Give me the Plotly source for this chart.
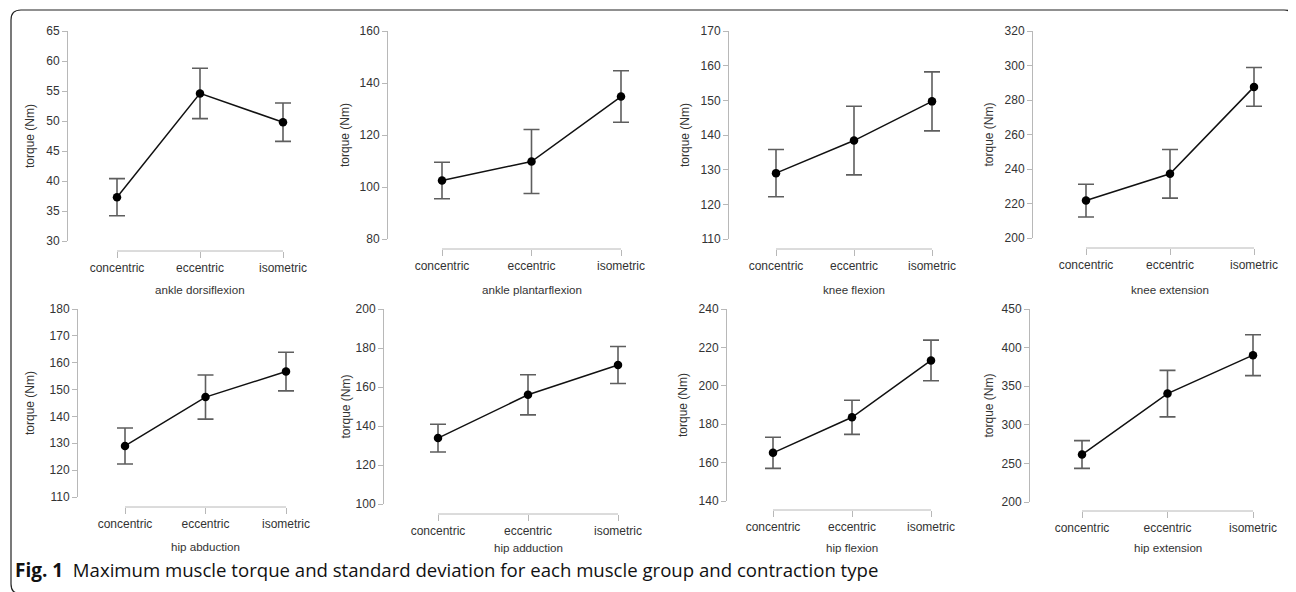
import plotly.graph_objects as go

# ---------------- data ----------------
categories = ["concentric", "eccentric", "isometric"]

muscle_groups = ["ankle dorsiflexion", "ankle plantarflexion", "knee flexion", "knee extension",
                 "hip abduction", "hip adduction", "hip flexion", "hip extension"]

mean_ankle_dorsiflexion = [37.3, 54.6, 49.8]
sd_ankle_dorsiflexion = [3.1, 4.2, 3.2]
mean_ankle_plantarflexion = [102.5, 109.8, 134.8]
sd_ankle_plantarflexion = [7.0, 12.3, 9.9]
mean_knee_flexion = [129.0, 138.4, 149.7]
sd_knee_flexion = [6.8, 9.9, 8.5]
mean_knee_extension = [221.7, 237.2, 287.6]
sd_knee_extension = [9.5, 14.1, 11.2]
mean_hip_abduction = [129.0, 147.2, 156.7]
sd_hip_abduction = [6.7, 8.2, 7.2]
mean_hip_adduction = [133.8, 156.0, 171.3]
sd_hip_adduction = [7.1, 10.3, 9.5]
mean_hip_flexion = [165.1, 183.6, 213.2]
sd_hip_flexion = [8.1, 8.9, 10.6]
mean_hip_extension = [261.5, 340.4, 390.2]
sd_hip_extension = [18.0, 30.1, 26.5]

means = [mean_ankle_dorsiflexion, mean_ankle_plantarflexion, mean_knee_flexion, mean_knee_extension,
         mean_hip_abduction, mean_hip_adduction, mean_hip_flexion, mean_hip_extension]
sds = [sd_ankle_dorsiflexion, sd_ankle_plantarflexion, sd_knee_flexion, sd_knee_extension,
       sd_hip_abduction, sd_hip_adduction, sd_hip_flexion, sd_hip_extension]

# y-axis scales (min, max, tick step)
y_axis_min = [30, 80, 110, 200, 110, 100, 140, 200]
y_axis_max = [65, 160, 170, 320, 180, 200, 240, 450]
y_axis_step = [5, 20, 10, 20, 10, 20, 20, 50]

y_title = "torque (Nm)"
caption_bold = "Fig. 1"
caption_text = "Maximum muscle torque and standard deviation for each muscle group and contraction type"

# ---------------- layout geometry (pixels, page coordinates) ----------------
W, H = 1296, 592
OFF = 8  # the page body margin that offsets the figure
# per panel: y-axis x, y-top, y-bottom, x-axis y, first category x, last category x, y-title x, x-title y
geom = [
    (67, 31, 241, 251, 117, 283, 30, 289),
    (387, 31, 239, 249, 442, 621, 345, 289),
    (728, 31, 239, 249, 776, 932, 685, 289),
    (1032, 31, 238, 248, 1086, 1254, 988, 289),
    (77, 309, 497, 507, 125, 286, 30, 546),
    (383, 309, 504, 514, 438, 618, 345, 547),
    (726, 309, 501, 510, 773, 931, 683, 547),
    (1029, 309, 502, 511, 1082, 1253, 988, 547),
]
PAD = 30  # extra px of plotting area left/right of the outer categories


def fx(px):
    return (px - OFF) / W


def fy(py):
    return 1 - (py - OFF) / H


AX_COL = "#b8b8b8"
TXT_COL = "#333333"
FONT = "Liberation Sans, Arial, sans-serif"

fig = go.Figure()
annotations = []
shapes = []
layout_axes = {}

for i in range(8):
    ax_x, ytop, ybot, xax_y, c0, c1, yt_x, xt_y = geom[i]
    n = i + 1
    xname = "x" if n == 1 else f"x{n}"
    yname = "y" if n == 1 else f"y{n}"
    xkey = "xaxis" if n == 1 else f"xaxis{n}"
    ykey = "yaxis" if n == 1 else f"yaxis{n}"

    fig.add_trace(go.Scatter(
        x=categories, y=means[i], xaxis=xname, yaxis=yname,
        mode="lines+markers",
        line=dict(color="#111111", width=1.5),
        marker=dict(color="#000000", size=8.5),
        error_y=dict(type="data", array=sds[i], visible=True, color="#5e5e5e",
                     thickness=1.6, width=8),
        cliponaxis=False, showlegend=False, hoverinfo="x+y",
    ))

    half = (c1 - c0) / 2.0
    d = PAD / half
    layout_axes[xkey] = dict(
        domain=[fx(c0 - PAD), fx(c1 + PAD)], anchor="free", position=fy(xax_y),
        type="category", range=[-d, 2 + d], showgrid=False, zeroline=False,
        showline=False, automargin=False,
        ticks="outside", ticklen=6, tickcolor=AX_COL, tickwidth=1,
        tickfont=dict(family=FONT, size=12, color=TXT_COL),
        fixedrange=True,
    )
    layout_axes[ykey] = dict(
        domain=[fy(ybot), fy(ytop)], anchor="free", position=fx(ax_x),
        range=[y_axis_min[i], y_axis_max[i]], dtick=y_axis_step[i], tick0=y_axis_min[i],
        showgrid=False, zeroline=False, automargin=False,
        showline=True, linecolor=AX_COL, linewidth=1,
        ticks="outside", ticklen=5, tickcolor=AX_COL, tickwidth=1,
        tickfont=dict(family=FONT, size=12, color=TXT_COL),
        fixedrange=True,
    )
    # x-axis baseline spanning first to last category
    shapes.append(dict(type="line", xref=xname, yref="paper",
                       x0=categories[0], x1=categories[-1], y0=fy(xax_y), y1=fy(xax_y),
                       line=dict(color=AX_COL, width=1)))
    # axis titles
    annotations.append(dict(
        text=muscle_groups[i], xref="paper", yref="paper",
        x=fx((c0 + c1) / 2), y=fy(xt_y), xanchor="center", yanchor="middle",
        showarrow=False, font=dict(family=FONT, size=11.6, color=TXT_COL),
    ))
    annotations.append(dict(
        text=y_title, xref="paper", yref="paper",
        x=fx(yt_x), y=fy((ytop + ybot) / 2), xanchor="center", yanchor="middle",
        textangle=-90, showarrow=False, font=dict(family=FONT, size=12, color=TXT_COL),
    ))

annotations.append(dict(
    text=f"<b><span style='font-size:19px'>{caption_bold}</span></b>  {caption_text}",
    xref="paper", yref="paper",
    x=fx(13), y=fy(570), xanchor="left", yanchor="middle", showarrow=False,
    font=dict(family="Open Sans, Noto Sans, sans-serif", size=18.6, color="#111111"),
))

# rounded frame around the figure
x0, y0, x1, y1, r = 11, 10, 1294, 594, 10
path = (f"M {fx(x0 + r)},{fy(y0)} L {fx(x1 - r)},{fy(y0)} "
        f"Q {fx(x1)},{fy(y0)} {fx(x1)},{fy(y0 + r)} "
        f"L {fx(x1)},{fy(y1 - r)} Q {fx(x1)},{fy(y1)} {fx(x1 - r)},{fy(y1)} "
        f"L {fx(x0 + r)},{fy(y1)} Q {fx(x0)},{fy(y1)} {fx(x0)},{fy(y1 - r)} "
        f"L {fx(x0)},{fy(y0 + r)} Q {fx(x0)},{fy(y0)} {fx(x0 + r)},{fy(y0)} Z")
shapes.append(dict(type="path", path=path, xref="paper", yref="paper",
                   line=dict(color="#222222", width=1.2), layer="below"))

fig.update_layout(
    template="none",
    width=W, height=H,
    margin=dict(l=0, r=0, t=0, b=0, pad=0),
    paper_bgcolor="white", plot_bgcolor="rgba(0,0,0,0)",
    showlegend=False,
    annotations=annotations,
    shapes=shapes,
    **layout_axes,
)

fig.write_html("out.html")
